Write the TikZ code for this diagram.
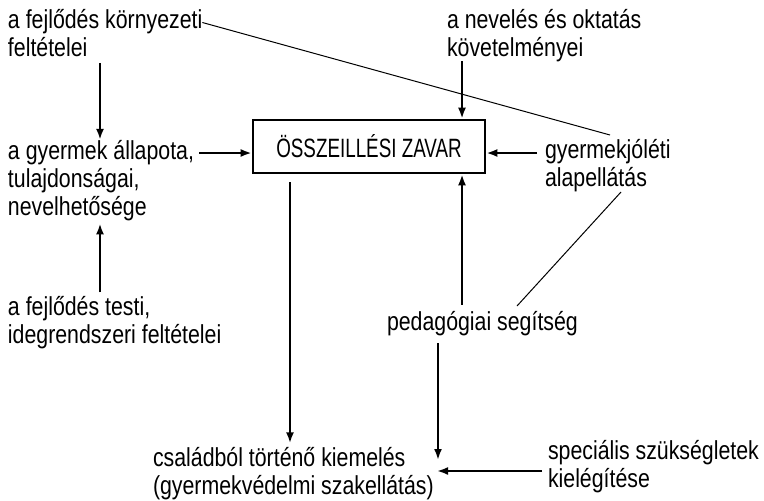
\documentclass[tikz,border=0pt]{standalone}
\usepackage{fontspec}
\setmainfont{Liberation Sans}[FakeStretch=0.82]
\newfontfamily\boxfont{Liberation Sans}[FakeStretch=0.71]
\usetikzlibrary{arrows.meta,calc}
\begin{document}
\begin{tikzpicture}[x=1pt,y=-1pt,
  txt/.style={inner sep=0pt, outer sep=0pt, align=left, anchor=base west, font=\fontsize{26}{28}\selectfont},
  arr/.style={line width=2.4pt, -{Latex[length=11pt,width=8pt]}},
  fine/.style={line width=1pt}]
\useasboundingbox (0,0) rectangle (764,501);
\node[txt] (env) at (8,56.5) {a fejlődés környezeti\\feltételei};
\node[txt] (child) at (8,215) {a gyermek állapota,\\tulajdonságai,\\nevelhetősége};
\node[txt] (body) at (8,343.5) {a fejlődés testi,\\idegrendszeri feltételei};
\node[txt] (educ) at (447,56) {a nevelés és oktatás\\követelményei};
\node[txt] (welfare) at (545,186.5) {gyermekjóléti\\alapellátás};
\node[txt] (ped) at (387,330) {pedagógiai segítség};
\node[txt] (family) at (153,494.5) {családból történő kiemelés\\(gyermekvédelmi szakellátás)};
\node[txt] (special) at (548,487.5) {speciális szükségletek\\kielégítése};
\node[draw, line width=2.6pt, minimum width=232pt, minimum height=53pt, inner sep=0pt,
      font=\boxfont\fontsize{26.5}{28}\selectfont] (box) at (369,146.5) {ÖSSZEILLÉSI ZAVAR};
\coordinate (ax) at (100,0);
\coordinate (bx) at (462,0);
\coordinate (cx) at (290,0);
\coordinate (rowA) at (0,153);
\coordinate (fport) at (438,466);
\draw[arr] ($(env.south -| ax)+(0,6)$) -- (child.north -| ax);
\draw[arr] ($(body.north -| ax)+(0,-4)$) -- ($(child.south -| ax)+(0,3)$);
\draw[arr] ($(child.east |- rowA)+(5,0)$) -- (box.west |- rowA);
\draw[arr] (educ.south -| bx) -- (box.north -| bx);
\draw[arr] ($(welfare.west |- rowA)+(-8,0)$) -- (box.east |- rowA);
\draw[arr] ($(ped.north -| bx)+(0,-6)$) -- (box.south -| bx);
\draw[arr] ($(box.south -| cx)+(0,8)$) -- ($(family.north -| cx)+(0,-4)$);
\draw[arr] ($(ped.south -| fport)+(0,8)$) -- ($(fport)+(0,-6)$);
\draw[arr] ($(special.west |- fport)+(-6,5)$) -- ($(fport)+(-1,5)$);
\draw[fine] ($(env.base east)+(0,-34)$) -- ($(welfare.base west)+(65,-51.5)$);
\draw[fine] ($(ped.base west)+(130,-24)$) -- ($(welfare.base west)+(76,5.5)$);
\end{tikzpicture}
\end{document}
